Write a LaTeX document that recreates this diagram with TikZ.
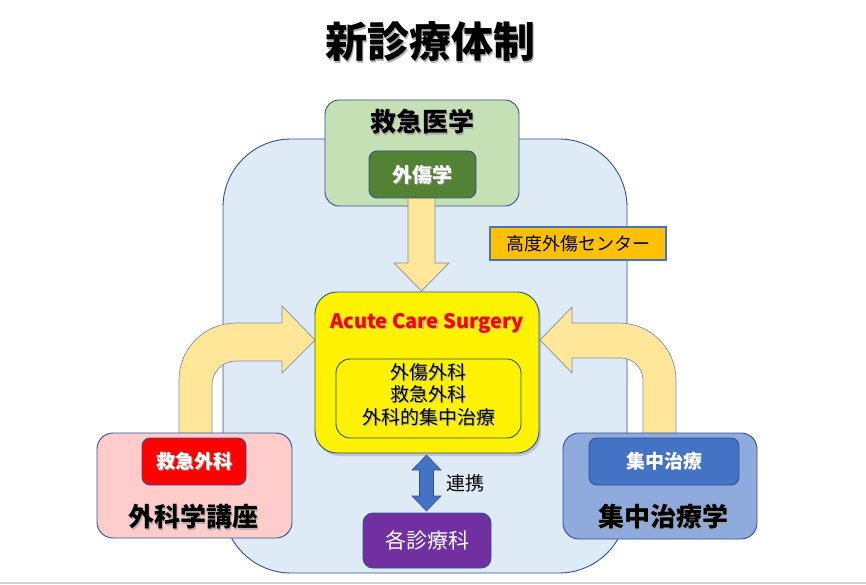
\documentclass[tikz,border=0pt]{standalone}
\usepackage{fontspec}
\setmainfont{Noto Sans CJK JP}
\usetikzlibrary{shadows}
\definecolor{bigfill}{HTML}{DEEBF7}
\definecolor{edgeblue}{HTML}{2F528F}
\definecolor{lgreen}{HTML}{C5E0B4}
\definecolor{dgreen}{HTML}{548235}
\definecolor{pinkfill}{HTML}{FFCCCC}
\definecolor{icufill}{HTML}{8FAADC}
\definecolor{midblue}{HTML}{4472C4}
\definecolor{orangefill}{HTML}{FFC000}
\definecolor{arrowfill}{HTML}{FFE699}
\definecolor{arrowedge}{HTML}{7F8FA9}
\definecolor{purplefill}{HTML}{7030A0}
\definecolor{acsred}{HTML}{FF0000}
\tikzset{
  box/.style={draw=edgeblue, line width=0.9pt, rectangle, inner sep=0pt},
  txt/.style={inner sep=0pt, align=center},
  shtxt/.style={inner sep=0pt, align=center, text=black!35, opacity=0.8},
  bentarrow/.style={fill=arrowfill, draw=arrowedge, line width=0.7pt},
}
\newcommand{\sz}[2]{\fontsize{#1}{#2}\selectfont}
\begin{document}
\begin{tikzpicture}[x=1pt,y=-1pt]
\useasboundingbox (0,0) rectangle (866,585);
% bottom slide line
\coordinate (bl) at (0,583);
\coordinate (br) at (866,583);
\draw[black!18, line width=1.5pt] (bl) -- (br);
% big rounded region
\node[box, fill=bigfill, minimum width=404pt, minimum height=434pt, rounded corners=68pt] (big) at (425,356) {};
% bent arrows
\draw[bentarrow] (179,437) -- (179,380) .. controls (179,348.5) and (204.5,323) .. (236,323) -- (282,323) -- (282,306) -- (315,340) -- (282,373) -- (282,361) -- (236,361) .. controls (222.75,361) and (212,371.75) .. (212,385) -- (212,437) -- cycle;
\draw[bentarrow] (676,437) -- (676,380) .. controls (676,348.5) and (650.5,323) .. (619,323) -- (572,323) -- (572,307) -- (540,340) -- (572,373) -- (572,358) -- (621,358) .. controls (633,358) and (643,368) .. (643,380) -- (643,437) -- cycle;
% top box
\node[box, fill=lgreen, minimum width=194pt, minimum height=106pt, rounded corners=14pt] (emerg) at (422,153) {};
\node[shtxt, font=\sz{26}{28}\bfseries] (emergs) at (423.5,123.5) {救急医学};
\node[txt, font=\sz{26}{28}\bfseries] (emergt) at (422,122) {救急医学};
% down arrow
\draw[bentarrow] (408,190) -- (435,190) -- (435,263) -- (449,263) -- (421.5,291) -- (394,263) -- (408,263) -- cycle;
\node[box, fill=dgreen, minimum width=107pt, minimum height=47pt, rounded corners=8pt] (trauma) at (422.5,174.5) {};
\node[shtxt, font=\sz{20}{22}\bfseries] (traumas) at (423.7,175.7) {外傷学};
\node[txt, text=white, font=\sz{20}{22}\bfseries] (traumat) at (422.5,174.5) {外傷学};
% trauma center label
\node[draw=midblue, line width=1.6pt, fill=orangefill, minimum width=176pt, minimum height=33pt, inner sep=0pt, font=\sz{18}{20}] (tcenter) at (578,243.5) {高度外傷センター};
% ACS box
\node[box, fill=yellow, minimum width=224pt, minimum height=161pt, rounded corners=22pt, drop shadow={shadow xshift=2pt, shadow yshift=-3pt, opacity=0.35}] (acs) at (427,372.5) {};
\node[shtxt, font=\sz{20}{22}\bfseries] (acsts) at (428.2,324.2) {Acute Care Surgery};
\node[txt, text=acsred, font=\sz{20}{22}\bfseries] (acst) at (427,323) {Acute Care Surgery};
\node[box, fill=yellow, minimum width=185pt, minimum height=79pt, rounded corners=14pt] (inner) at (428.5,398.5) {};
\node[shtxt, font=\sz{19}{22.5}] (inners) at (429.7,395.7) {外傷外科\\救急外科\\外科的集中治療};
\node[txt, font=\sz{19}{22.5}] (innert) at (428.5,394.5) {外傷外科\\救急外科\\外科的集中治療};
% left box
\node[box, fill=pinkfill, minimum width=195pt, minimum height=105pt, rounded corners=16pt] (surg) at (194.5,485.5) {};
\node[box, fill=acsred, minimum width=104pt, minimum height=47pt, rounded corners=8pt] (er) at (194,461.5) {};
\node[shtxt, font=\sz{19}{21}\bfseries] (erts) at (195.2,462.7) {救急外科};
\node[txt, text=white, font=\sz{19}{21}\bfseries] (ert) at (194,461.5) {救急外科};
\node[shtxt, font=\sz{26}{28}\bfseries] (surgts) at (194.5,518.5) {外科学講座};
\node[txt, font=\sz{26}{28}\bfseries] (surgt) at (193,517) {外科学講座};
% right box
\node[box, fill=icufill, minimum width=194pt, minimum height=106pt, rounded corners=16pt] (icu) at (660,486) {};
\node[box, fill=midblue, minimum width=150pt, minimum height=47pt, rounded corners=8pt] (icuin) at (664,461.5) {};
\node[txt, text=white, font=\sz{19}{21}\bfseries] (icuint) at (664,461.5) {集中治療};
\node[shtxt, font=\sz{26}{28}\bfseries] (icuts) at (664.5,518.5) {集中治療学};
\node[txt, font=\sz{26}{28}\bfseries] (icut) at (663,517) {集中治療学};
% departments
\node[box, fill=purplefill, minimum width=128pt, minimum height=55pt, rounded corners=10pt, text=white, font=\sz{21}{23}] (depts) at (427,540.5) {各診療科};
% double arrow
\draw[fill=midblue, draw=edgeblue, line width=0.6pt] (426.5,455) -- (441,470) -- (433.5,470) -- (433.5,496) -- (441,496) -- (426.5,511) -- (412,496) -- (419.5,496) -- (419.5,470) -- (412,470) -- cycle;
\node[txt, font=\sz{19}{21}] (renkei) at (465,483) {連携};
% title
\node[txt, text=black!30, font=\sz{42}{46}\bfseries] (titles) at (431.5,43.5) {新診療体制};
\node[txt, font=\sz{42}{46}\bfseries] (title) at (430,42) {新診療体制};
\end{tikzpicture}
\end{document}
